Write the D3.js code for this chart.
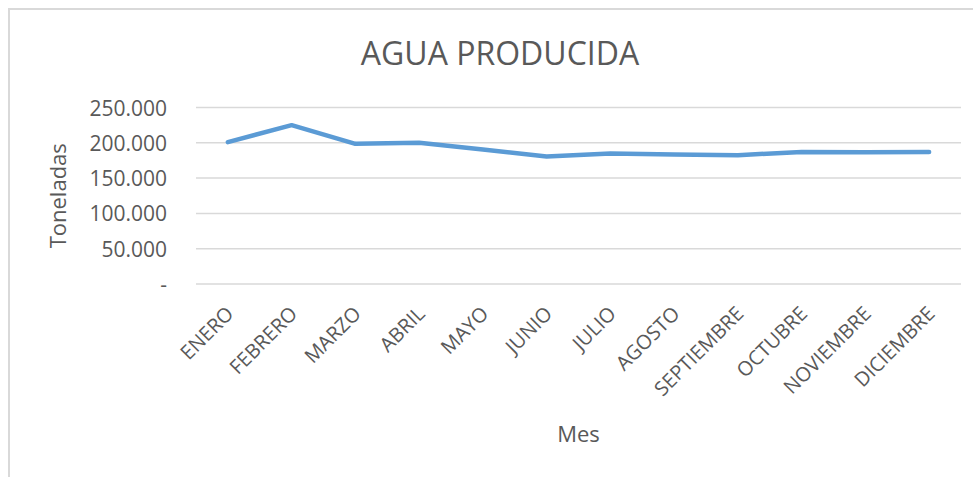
<!DOCTYPE html>
<html>
<head>
<meta charset="utf-8">
<script src="https://cdn.jsdelivr.net/npm/d3@7"></script>
<style>
  html, body { margin: 0; padding: 0; background: #fff; }
  svg { display: block; }
  text { font-family: "Open Sans", sans-serif; fill: #595959; }
</style>
</head>
<body>
<svg id="chart" width="973" height="477"></svg>
<script>
const months = ["ENERO","FEBRERO","MARZO","ABRIL","MAYO","JUNIO","JULIO","AGOSTO","SEPTIEMBRE","OCTUBRE","NOVIEMBRE","DICIEMBRE"];
const aguaProducida = [201000, 225000, 198500, 200000, 190500, 180500, 185000, 183500, 182500, 187000, 186500, 187000];
const yTicks = [0, 50000, 100000, 150000, 200000, 250000];
const yTickLabels = ["-", "50.000", "100.000", "150.000", "200.000", "250.000"];
const title = "AGUA PRODUCIDA";
const yTitle = "Toneladas";
const xTitle = "Mes";

const svg = d3.select("#chart");

// chart frame
svg.append("rect")
  .attr("x", 9).attr("y", 9)
  .attr("width", 980).attr("height", 490)
  .attr("fill", "#fff")
  .attr("stroke", "#d9d9d9")
  .attr("stroke-width", 2);

const plot = { left: 196, right: 961, top: 107.5, bottom: 284 };

const x = d3.scaleBand().domain(months).range([plot.left, plot.right]);
const y = d3.scaleLinear().domain([0, 250000]).range([plot.bottom, plot.top]);

// gridlines
svg.append("g")
  .selectAll("line")
  .data(yTicks)
  .join("line")
  .attr("x1", plot.left).attr("x2", plot.right)
  .attr("y1", d => y(d)).attr("y2", d => y(d))
  .attr("stroke", "#d9d9d9")
  .attr("stroke-width", 1.5);

// y axis labels
const yAxis = d3.axisLeft(y)
  .tickValues(yTicks)
  .tickSize(0)
  .tickPadding(0)
  .tickFormat((d, i) => yTickLabels[i]);
const gy = svg.append("g").attr("transform", `translate(${plot.left - 29},0)`).call(yAxis);
gy.select(".domain").remove();
gy.selectAll("text")
  .attr("font-family", "Open Sans, sans-serif")
  .attr("font-size", 21)
  .attr("fill", "#595959")
  .attr("dy", "0.36em");

// x axis labels
const xAxis = d3.axisBottom(x).tickSize(0).tickPadding(0);
const gx = svg.append("g").attr("transform", `translate(0,${plot.bottom})`).call(xAxis);
gx.select(".domain").remove();
gx.selectAll(".tick text")
  .attr("font-family", "Open Sans, sans-serif")
  .attr("font-size", 20)
  .attr("fill", "#595959")
  .attr("text-anchor", "end")
  .attr("y", 0).attr("dy", 0)
  .attr("transform", "translate(7,31) rotate(-45)");

// line
const line = d3.line()
  .x((d, i) => x(months[i]) + x.bandwidth() / 2)
  .y(d => y(d));
svg.append("path")
  .datum(aguaProducida)
  .attr("d", line)
  .attr("fill", "none")
  .attr("stroke", "#5b9bd5")
  .attr("stroke-width", 4.5)
  .attr("stroke-linejoin", "round")
  .attr("stroke-linecap", "round");

// title
svg.append("text")
  .attr("x", 500).attr("y", 65)
  .attr("text-anchor", "middle")
  .attr("font-size", 32)
  .text(title);

// y title
svg.append("text")
  .attr("transform", `translate(66,${(plot.top + plot.bottom) / 2}) rotate(-90)`)
  .attr("text-anchor", "middle")
  .attr("font-size", 22)
  .text(yTitle);

// x title
svg.append("text")
  .attr("x", (plot.left + plot.right) / 2).attr("y", 442)
  .attr("text-anchor", "middle")
  .attr("font-size", 22)
  .text(xTitle);
</script>
</body>
</html>
